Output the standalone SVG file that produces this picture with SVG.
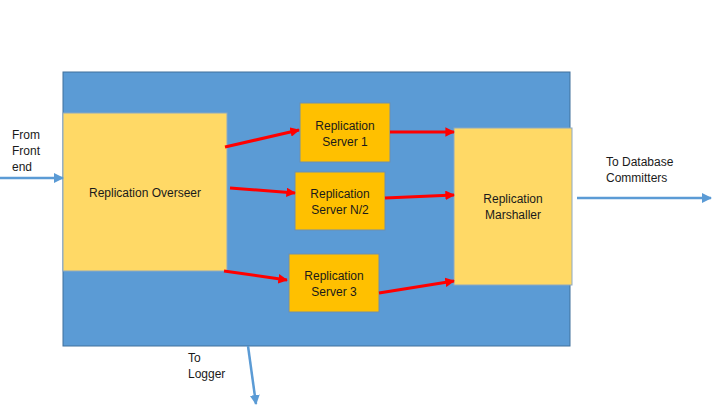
<svg xmlns="http://www.w3.org/2000/svg" width="720" height="405" viewBox="0 0 720 405">
<style>
text{font-family:"Liberation Sans",Arial,sans-serif;font-size:12px;fill:#1a1a1a}
.c{text-anchor:middle}
.box{fill:#FFD966;stroke:#8EA9C1;stroke-width:1}
.srv{fill:#FFC000;stroke:#6F8FAF;stroke-width:1}
.red{stroke:#FF0000;stroke-width:3;fill:none;marker-end:url(#ra)}
.blu{stroke:#5B9BD5;stroke-width:2.5;fill:none;marker-end:url(#ba)}
</style>
<defs>
<marker id="ra" viewBox="0 0 10 10" refX="9" refY="5" markerWidth="3.2" markerHeight="3.2" orient="auto" markerUnits="strokeWidth"><path d="M0,0 L10,5 L0,10 z" fill="#FF0000"/></marker>
<marker id="ba" viewBox="0 0 10 10" refX="9" refY="5" markerWidth="4" markerHeight="4" orient="auto" markerUnits="strokeWidth"><path d="M0,0 L10,5 L0,10 z" fill="#5B9BD5"/></marker>
</defs>
<rect width="720" height="405" fill="#fff"/>
<g id="container"><rect x="63" y="72" width="507" height="274" fill="#5B9BD5" stroke="#41719C" stroke-width="1"/></g>
<g id="overseer"><rect class="box" x="63" y="113" width="164" height="158"/><text class="c" x="145" y="197">Replication Overseer</text></g>
<g id="server1"><rect class="srv" x="300" y="103" width="90" height="59"/><text class="c" x="345" y="130">Replication</text><text class="c" x="345" y="146">Server 1</text></g>
<g id="serverN2"><rect class="srv" x="295" y="172" width="90" height="58"/><text class="c" x="340" y="198">Replication</text><text class="c" x="340" y="214">Server N/2</text></g>
<g id="server3"><rect class="srv" x="289" y="254" width="90" height="58"/><text class="c" x="334" y="280">Replication</text><text class="c" x="334" y="296">Server 3</text></g>
<g id="marshaller"><rect class="box" x="454" y="128" width="118" height="157"/><text class="c" x="513" y="203">Replication</text><text class="c" x="513" y="219">Marshaller</text></g>
<g id="connectors">
<line class="red" x1="225" y1="147" x2="299" y2="130"/>
<line class="red" x1="230" y1="188" x2="295" y2="193"/>
<line class="red" x1="224" y1="271" x2="287" y2="280"/>
<line class="red" x1="390" y1="132" x2="454" y2="132"/>
<line class="red" x1="385" y1="198" x2="454" y2="195"/>
<line class="red" x1="379" y1="293" x2="454" y2="281"/>
<line class="blu" x1="0" y1="178" x2="63" y2="178"/>
<line class="blu" x1="577" y1="198" x2="711" y2="198"/>
<line class="blu" x1="248" y1="346" x2="256" y2="404"/>
</g>
<g id="labels">
<text x="12" y="139">From</text><text x="12" y="155">Front</text><text x="12" y="171">end</text>
<text x="606" y="166">To Database</text><text x="606" y="182">Committers</text>
<text x="188" y="362">To</text><text x="188" y="378">Logger</text>
</g>
</svg>
